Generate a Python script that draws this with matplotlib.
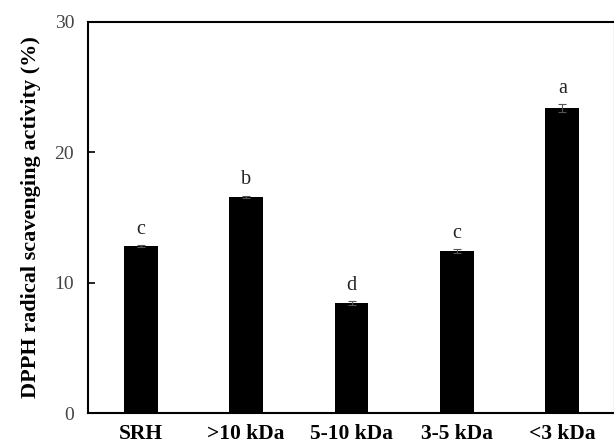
import matplotlib.pyplot as plt

# data
fractions = ["SRH", ">10 kDa", "5-10 kDa", "3-5 kDa", "<3 kDa"]
activity = [12.8, 16.6, 8.45, 12.4, 23.4]
errors = [0.08, 0.08, 0.15, 0.15, 0.3]
letters = ["c", "b", "d", "c", "a"]

plt.rcParams['font.family'] = ['Liberation Serif', 'DejaVu Serif']

fig = plt.figure(figsize=(6.14, 4.48), dpi=100)
ax = fig.add_axes([88 / 614, 35 / 448, 527 / 614, 391 / 448])

x = range(len(fractions))
ax.bar(x, activity, width=0.32, color="black", yerr=errors,
       error_kw=dict(ecolor="#555555", elinewidth=0.8, capsize=3, capthick=0.8))

for i, (v, e, s) in enumerate(zip(activity, errors, letters)):
    ax.annotate(s, (i, v + e), xytext=(0, 8), textcoords="offset points",
                ha="center", va="baseline", fontsize=14.5, color="#222222")

ax.set_xlim(-0.5, 4.5)
ax.set_ylim(0, 30)
ax.set_yticks([0, 10, 20, 30])
ax.set_xticks(list(x))
ax.set_xticklabels(fractions, fontweight="bold", fontsize=15.5)
ax.tick_params(axis="x", length=0, pad=8)
ax.tick_params(axis="y", direction="in", length=5, width=1.2, pad=10,
               labelsize=14, labelcolor="#444444")
ax.set_ylabel("DPPH radical scavenging activity (%)", fontweight="bold",
              fontsize=16, labelpad=10)
for sp in ax.spines.values():
    sp.set_linewidth(1.5)

fig.savefig("out.png", dpi=100)
